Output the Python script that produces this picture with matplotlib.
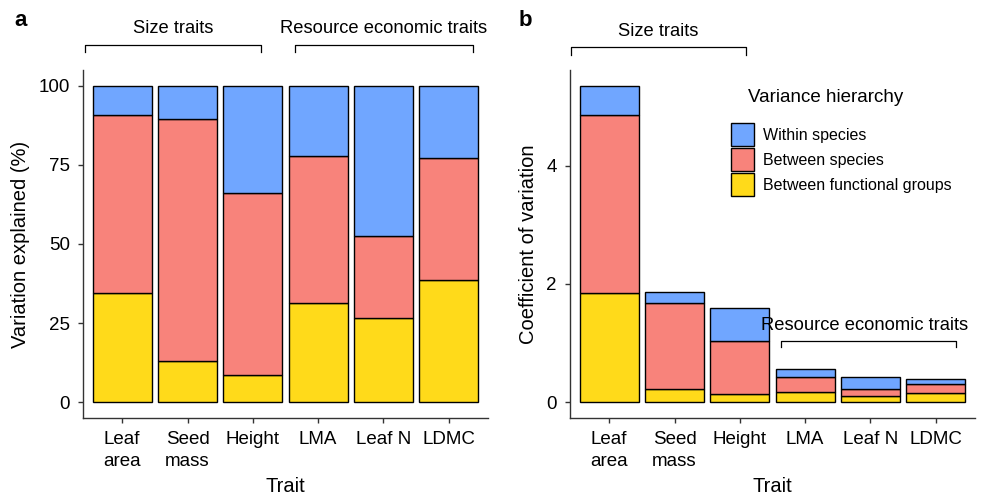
# stacked variance-partition bars, two panels (percent and coefficient of variation)

import numpy as np
import matplotlib
matplotlib.use('Agg')
import matplotlib.pyplot as plt
from matplotlib.patches import Patch
import matplotlib.transforms as mtransforms

plt.rcParams['font.family'] = ['Liberation Sans', 'DejaVu Sans']

# data
traits = ['Leaf\narea', 'Seed\nmass', 'Height', 'LMA', 'Leaf N', 'LDMC']
levels = ['Within species', 'Between species', 'Between functional groups']

# panel a: variation explained (%)
pct_groups = [34.5, 12.9, 8.6, 31.4, 26.7, 38.6]
pct_between = [56.4, 76.7, 57.6, 46.3, 25.9, 38.5]
pct_within = [9.1, 10.4, 33.8, 22.3, 47.4, 22.9]

# panel b: coefficient of variation
cv_groups = [1.85, 0.23, 0.13, 0.17, 0.11, 0.15]
cv_between = [3.00, 1.44, 0.91, 0.26, 0.11, 0.15]
cv_within = [0.50, 0.20, 0.55, 0.13, 0.21, 0.09]

col_within = '#70A6FF'
col_between = '#F8837B'
col_groups = '#FFDA1A'
axcol = '#333333'
fs = 13.5
fs_title = 14.5

fig = plt.figure(figsize=(9.82, 4.96), dpi=100)
ax_a = fig.add_axes([83/982, 78/496, 405/982, 348/496])
ax_b = fig.add_axes([570/982, 78/496, 405/982, 348/496])

x = np.arange(1, len(traits) + 1)


def stacked(ax, g, b, w):
    g, b, w = np.array(g), np.array(b), np.array(w)
    kw = dict(width=0.9, edgecolor='black', linewidth=1.0)
    ax.bar(x, g, color=col_groups, **kw)
    ax.bar(x, b, bottom=g, color=col_between, **kw)
    ax.bar(x, w, bottom=g + b, color=col_within, **kw)
    top = (g + b + w).max()
    ax.set_ylim(-0.05 * top, top * 1.05)
    ax.set_xlim(0.4, len(traits) + 0.6)
    ax.set_xticks(x)
    ax.set_xticklabels(traits, fontsize=fs, color='black', linespacing=1.4)
    for s in ['top', 'right']:
        ax.spines[s].set_visible(False)
    for s in ['left', 'bottom']:
        ax.spines[s].set_color(axcol)
        ax.spines[s].set_linewidth(1.0)
    ax.tick_params(length=3.5, width=1.0, color=axcol, labelsize=fs, pad=6)
    ax.set_xlabel('Trait', fontsize=fs_title, labelpad=5)


def bracket(ax, x0, x1, y, dy, label, ty, tx=None, trans=None):
    ax.plot([x0, x0, x1, x1], [y - dy, y, y, y - dy], color='black', lw=0.9,
            transform=trans, clip_on=False)
    if tx is None:
        tx = (x0 + x1) / 2
    ax.text(tx, ty, label, ha='center', va='center', fontsize=13.2, transform=trans)


# panel a
stacked(ax_a, pct_groups, pct_between, pct_within)
ax_a.set_yticks([0, 25, 50, 75, 100])
ax_a.set_ylabel('Variation explained (%)', fontsize=fs_title, labelpad=6)
tr_a = mtransforms.blended_transform_factory(ax_a.transData, ax_a.transAxes)
bracket(ax_a, 0.43, 3.13, 1.072, 0.02, 'Size traits', 1.118, trans=tr_a)
bracket(ax_a, 3.65, 6.37, 1.072, 0.02, 'Resource economic traits', 1.118, tx=5.0, trans=tr_a)

# panel b
stacked(ax_b, cv_groups, cv_between, cv_within)
ax_b.set_yticks([0, 2, 4])
ax_b.set_ylabel('Coefficient of variation', fontsize=fs_title, labelpad=6)
tr_b = mtransforms.blended_transform_factory(ax_b.transData, ax_b.transAxes)
bracket(ax_b, 0.42, 3.09, 1.066, 0.022, 'Size traits', 1.11, trans=tr_b)
bracket(ax_b, 3.63, 6.31, 1.03, 0.10, 'Resource economic traits', 1.29, tx=4.91,
        trans=ax_b.transData)

handles = [Patch(facecolor=c, edgecolor='black', linewidth=1.0)
           for c in [col_within, col_between, col_groups]]
fig.text(826/982, 1 - 97/496, 'Variance hierarchy', ha='center', va='center', fontsize=13.5)
fig.legend(handles, levels, loc='upper left', bbox_to_anchor=(731/982, 1 - 123/496),
           frameon=False, fontsize=11.5, handlelength=1.45, handleheight=1.85,
           handletextpad=0.55, labelspacing=0.12, borderpad=0, borderaxespad=0)

fig.text(14/982, 1 - 20/496, 'a', fontsize=16, fontweight='bold', va='center')
fig.text(519/982, 1 - 20/496, 'b', fontsize=16, fontweight='bold', va='center')

fig.savefig('out.png', dpi=100)
